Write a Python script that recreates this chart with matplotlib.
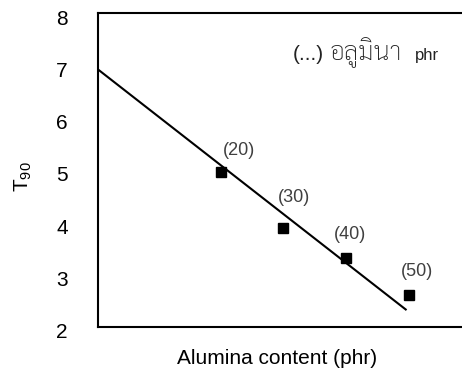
import numpy as np
import matplotlib
matplotlib.use("Agg")
from matplotlib import pyplot as plt
from matplotlib.transforms import ScaledTranslation

# data
alumina = [20, 30, 40, 50]
t90 = [4.97, 3.89, 3.32, 2.61]
point_labels = ["(20)", "(30)", "(40)", "(50)"]
fit_x = [0.48, 49.5]
fit_y = [6.92, 2.33]
yticks = [2, 3, 4, 5, 6, 7, 8]

# label offsets from each marker, in points
label_offsets = [(13, 9), (7.5, 16), (3, 10.5), (6, 10.5)]

plt.rcParams['font.family'] = ['Liberation Sans', 'DejaVu Sans']
plt.rcParams['mathtext.default'] = 'regular'

fig = plt.figure(figsize=(4.62, 3.71), dpi=100)
ax = fig.add_axes([0.2128, 0.1194, 0.7916, 0.8448])

ax.plot(fit_x, fit_y, color='black', lw=1.5)
ax.plot(alumina, t90, 's', color='black', ms=7)
for x, y, lab, off in zip(alumina, t90, point_labels, label_offsets):
    ax.annotate(lab, (x, y), xytext=off, textcoords='offset points',
                ha='center', va='bottom', fontsize=13, color='#404040')

ax.set_xlim(0.48, 58.8)
ax.set_ylim(2, 8)
ax.set_xticks([])
ax.set_yticks(yticks)
ax.tick_params(axis='y', length=0, pad=22, labelsize=15)
# tick labels sit a little below their grid value in the original
for lab in ax.get_yticklabels():
    lab.set_transform(lab.get_transform() + ScaledTranslation(0, -0.04, fig.dpi_scale_trans))
for s in ax.spines.values():
    s.set_linewidth(1.5)
ax.spines['right'].set_visible(False)

ax.set_xlabel("Alumina content (phr)", fontsize=15)
ax.xaxis.set_label_coords(0.49, -0.07)
ax.set_ylabel("T$_{90}$", fontsize=15)
ax.yaxis.set_label_coords(-0.175, 0.48)

ax.text(0.532, 0.851, "(...)", transform=ax.transAxes, fontsize=15,
        color='#222222', va='baseline', ha='left')
ax.text(0.632, 0.851, "อลูมินา", transform=ax.transAxes, fontsize=18.5,
        color='#222222', va='baseline', ha='left', fontweight='light',
        family=['Sarabun', 'DejaVu Sans'])
ax.text(0.866, 0.851, "phr", transform=ax.transAxes, fontsize=12,
        color='#222222', va='baseline', ha='left')

fig.savefig("out.png", dpi=100)
